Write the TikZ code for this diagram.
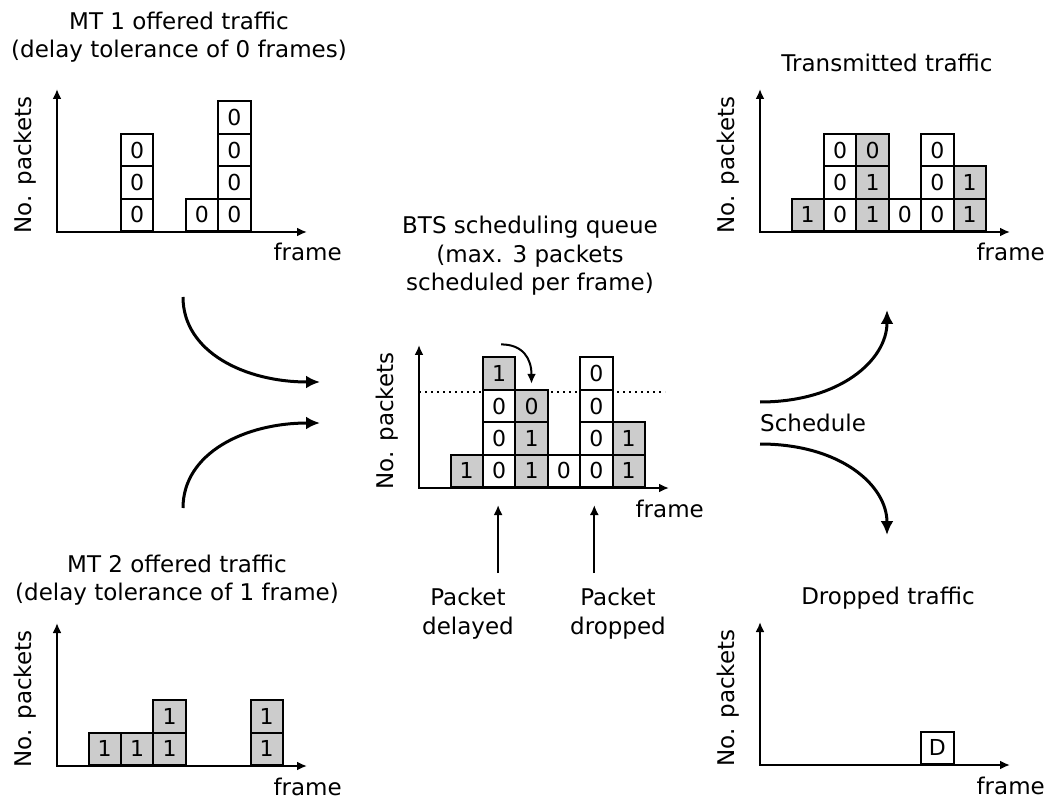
\documentclass[tikz,border=0pt]{standalone}
\usepackage{fontspec}
\setmainfont{DejaVu Sans}
\usetikzlibrary{arrows.meta}
\definecolor{pktgray}{gray}{0.8}
\tikzset{
  lbl/.style={font=\fontsize{23}{28.5}\selectfont, inner sep=0pt},
  ttl/.style={lbl, align=center},
  pkw/.style={draw=black, line width=2pt, fill=white, minimum size=32.4pt,
    inner sep=0pt, anchor=south west, font=\fontsize{22}{24}\selectfont},
  pkg/.style={pkw, fill=pktgray},
  axis/.style={line width=2pt, {Latex[length=10pt,width=9pt]}-{Latex[length=10pt,width=9pt]}},
  flow/.style={line width=3pt, -{Latex[length=14pt,width=13pt]}},
  pointer/.style={line width=2pt, -{Latex[length=10pt,width=9pt]}},
  limit/.style={line width=2pt, dash pattern=on 2pt off 4pt},
}
% axes and axis labels of one chart: name, origin x, origin y
\newcommand{\chartaxes}[3]{%
  \coordinate (#1-o) at (#2,#3);
  \coordinate (#1-y) at (#2,#3-143);
  \coordinate (#1-x) at (#2+250,#3);
  \draw[axis] (#1-y) -- (#1-o) -- (#1-x);
  \node[lbl, rotate=90] (#1-ylab) at (#2-32,#3-67) {No. packets};
  \node[lbl, anchor=base east] (#1-xlab) at (#2+285,#3+29) {frame};
}
% one packet box: chart name, origin x, origin y, slot, row, style, label
\newcommand{\pkbox}[7]{%
  \node[#6] (#1-#4-#5) at ({#2+30.5+32.4*#4},{#3-32.4*#5}) {#7};
}
\begin{document}
\begin{tikzpicture}[x=1pt, y=-1pt]
\useasboundingbox (0,0) rectangle (1057,799);

% MT 1 offered traffic
\node[ttl] (t1) at (179,37) {MT 1 offered traffic\\(delay tolerance of 0 frames)};
\chartaxes{a}{57}{232}
\foreach \s/\r/\st/\t in {1/0/pkw/0,1/1/pkw/0,1/2/pkw/0,3/0/pkw/0,
  4/0/pkw/0,4/1/pkw/0,4/2/pkw/0,4/3/pkw/0}
  {\pkbox{a}{57}{232}{\s}{\r}{\st}{\t}}

% MT 2 offered traffic
\node[ttl] (t2) at (177,580) {MT 2 offered traffic\\(delay tolerance of 1 frame)};
\chartaxes{b}{57}{766}
\foreach \s/\r/\st/\t in {0/0/pkg/1,1/0/pkg/1,2/0/pkg/1,2/1/pkg/1,5/0/pkg/1,5/1/pkg/1}
  {\pkbox{b}{57}{766}{\s}{\r}{\st}{\t}}

% BTS scheduling queue
\node[ttl] (tc) at (530,256) {BTS scheduling queue\\(max. 3 packets\\scheduled per frame)};
\chartaxes{c}{419}{488}
\coordinate (lim-a) at (419,392);
\coordinate (lim-b) at (665,392);
\draw[limit] (lim-a) -- (lim-b);
\foreach \s/\r/\st/\t in {0/0/pkg/1,1/0/pkw/0,1/1/pkw/0,1/2/pkw/0,1/3/pkg/1,
  2/0/pkg/1,2/1/pkg/1,2/2/pkg/0,3/0/pkw/0,
  4/0/pkw/0,4/1/pkw/0,4/2/pkw/0,4/3/pkw/0,5/0/pkg/1,5/1/pkg/1}
  {\pkbox{c}{419}{488}{\s}{\r}{\st}{\t}}
\draw[pointer] ([xshift=2pt,yshift=12pt]c-1-3.north)
  .. controls +(22,0) and +(0,-25) .. ([yshift=5pt]c-2-2.north);

% annotations below the queue
\node[ttl] (pdl) at (468,613.5) {Packet\\delayed};
\node[ttl] (prl) at (618,613.5) {Packet\\dropped};
\draw[pointer] ([xshift=-1pt,yshift=-85pt]c-1-0.south) -- ([xshift=-1pt,yshift=-17pt]c-1-0.south);
\draw[pointer] ([xshift=-2pt,yshift=-85pt]c-4-0.south) -- ([xshift=-2pt,yshift=-17pt]c-4-0.south);

% Transmitted traffic
\node[ttl] (tt) at (887,63) {Transmitted traffic};
\chartaxes{d}{760}{232}
\foreach \s/\r/\st/\t in {0/0/pkg/1,1/0/pkw/0,1/1/pkw/0,1/2/pkw/0,
  2/0/pkg/1,2/1/pkg/1,2/2/pkg/0,3/0/pkw/0,
  4/0/pkw/0,4/1/pkw/0,4/2/pkw/0,5/0/pkg/1,5/1/pkg/1}
  {\pkbox{d}{760}{232}{\s}{\r}{\st}{\t}}

% Dropped traffic
\node[ttl] (td) at (888,598) {Dropped traffic};
\chartaxes{e}{760}{765}
\pkbox{e}{760}{765}{4}{0}{pkw}{D}

% flows into and out of the queue
\coordinate (f1s) at (183,297);
\coordinate (f1e) at (320,382);
\coordinate (f2s) at (183,508);
\coordinate (f2e) at (320,423);
\coordinate (f3s) at (760,402);
\coordinate (f3e) at (887,310);
\coordinate (f4s) at (760,444);
\coordinate (f4e) at (887,535);
\draw[flow] (f1s) .. controls +(0,55) and +(-75,0) .. (f1e);
\draw[flow] (f2s) .. controls +(0,-55) and +(-75,0) .. (f2e);
\draw[flow] (f3s) .. controls +(80,0) and +(0,50) .. (f3e);
\draw[flow] (f4s) .. controls +(80,0) and +(0,-50) .. (f4e);
\node[lbl, anchor=west] (sch) at (760,423) {Schedule};
\end{tikzpicture}
\end{document}
